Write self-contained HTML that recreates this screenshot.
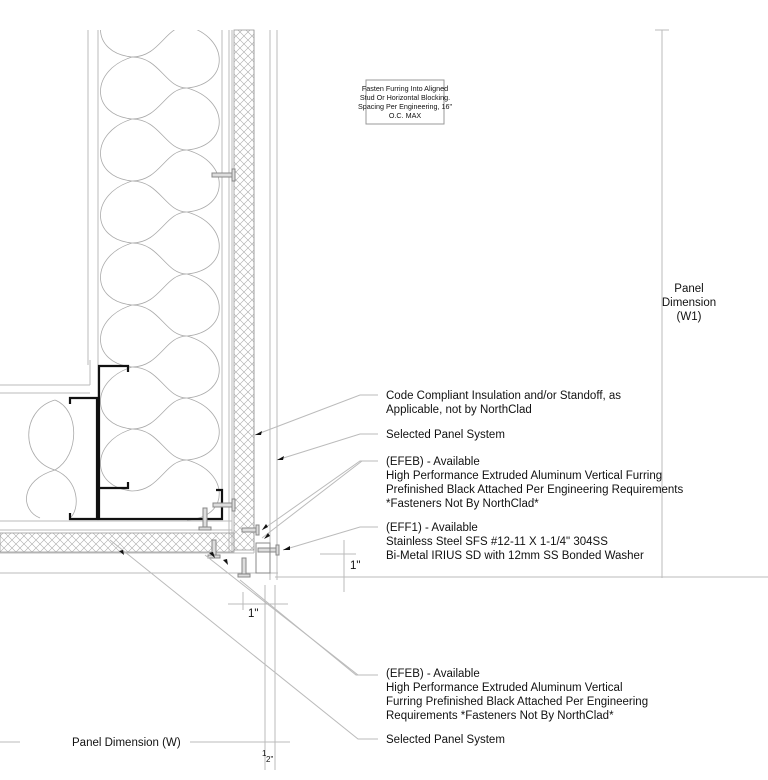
<!DOCTYPE html>
<html><head><meta charset="utf-8"><style>
html,body{margin:0;padding:0;background:#fff;}
svg{display:block;}
text{font-family:"Liberation Sans",sans-serif;fill:#111;}
</style></head><body>
<svg width="768" height="780" viewBox="0 0 768 780" xmlns="http://www.w3.org/2000/svg">
<defs>
<pattern id="h" width="8" height="8" patternUnits="userSpaceOnUse">
<path d="M0 0L8 8M8 0L0 8" stroke="#aaa" stroke-width="0.6"/>
</pattern>
<marker id="a" markerWidth="8" markerHeight="6" refX="7" refY="3" orient="auto"><path d="M0 0L8 3L0 6z" fill="#111"/></marker>
</defs>
<g fill="none" stroke="#bbb" stroke-width="1">
<!-- left wall lines -->
<line x1="88" y1="30" x2="88" y2="365"/>
<line x1="98" y1="30" x2="98" y2="520"/>
<line x1="222" y1="30" x2="222" y2="520"/>
<line x1="229" y1="30" x2="229" y2="553"/>
<line x1="232" y1="30" x2="232" y2="553"/>
<line x1="254" y1="30" x2="254" y2="553"/>
<line x1="270" y1="30" x2="270" y2="580"/>
<line x1="277" y1="30" x2="277" y2="580"/>
<!-- stud blocking left -->
<line x1="0" y1="385" x2="90" y2="385"/>
<line x1="0" y1="393" x2="90" y2="393"/>
<line x1="90" y1="360" x2="90" y2="385"/>
<!-- bottom horizontal -->
<line x1="0" y1="521" x2="232" y2="521"/>
<line x1="0" y1="530" x2="232" y2="530"/>
<line x1="0" y1="553" x2="254" y2="553"/>
<line x1="0" y1="573" x2="278" y2="573"/>
<line x1="275" y1="577" x2="768" y2="577"/>
</g>
<rect x="234" y="30" width="20" height="520" fill="url(#h)" stroke="#999" stroke-width="0.8"/>
<rect x="0" y="533" width="234" height="19" fill="url(#h)" stroke="#999" stroke-width="0.8"/>
<!-- insulation -->
<g fill="none" stroke="#aaa" stroke-width="0.8">
<path d="M132 -5 C90 8 90 53 132 57 M132 57 C90 70 90 115 132 119 M132 119 C90 132 90 177 132 181 M132 181 C90 194 90 239 132 243 M132 243 C90 256 90 301 132 305 M132 305 C90 318 90 363 132 367 M132 367 C90 380 90 425 132 429 M132 429 C90 442 90 487 132 491"/>
<path d="M187 26 C230 38 230 84 187 88 M187 88 C230 100 230 146 187 150 M187 150 C230 162 230 208 187 212 M187 212 C230 224 230 270 187 274 M187 274 C230 286 230 332 187 336 M187 336 C230 348 230 394 187 398 M187 398 C230 410 230 456 187 460 M187 460 C230 472 230 518 187 520"/>
<path d="M132 57 C160 57 165 88 187 88 C165 88 160 119 132 119 C160 119 165 150 187 150 C165 150 160 181 132 181 C160 181 165 212 187 212 C165 212 160 243 132 243 C160 243 165 274 187 274 C165 274 160 305 132 305 C160 305 165 336 187 336 C165 336 160 367 132 367 C160 367 165 398 187 398 C165 398 160 429 132 429 C160 429 165 460 187 460 C165 460 160 491 132 491"/>
<path d="M132 57 C160 57 165 26 187 26"/>
<path d="M55 400 C20 410 20 460 55 470 C20 480 20 510 40 518 M55 400 C80 410 80 455 55 470 C80 480 80 510 70 518"/>
</g>
<rect x="98" y="0" width="124" height="30" fill="#fff"/>
<!-- studs -->
<g fill="none" stroke="#111" stroke-width="2.2">
<path d="M128 372 L128 366 L99 366 L99 519 L222 519 L222 490 L216 490"/>
<path d="M70 404 L70 398 L97 398 L97 519 L70 519 L70 513"/>
<path d="M100 488 L128 488 L128 482"/>
</g>
<!-- screws -->
<g stroke="#888" stroke-width="1" fill="#ddd">
<rect x="212" y="173" width="20" height="4"/><rect x="232" y="169" width="3" height="12"/>
<rect x="213" y="503" width="20" height="4"/><rect x="232" y="499" width="3" height="12"/>
<rect x="203" y="508" width="4" height="20"/><rect x="199" y="527" width="12" height="3"/>
<rect x="212" y="540" width="4" height="16"/><rect x="208" y="555" width="12" height="3"/>
<rect x="242" y="528" width="14" height="4"/><rect x="256" y="525" width="3" height="10"/>
<rect x="242" y="558" width="4" height="16"/><rect x="238" y="574" width="12" height="3"/>
<rect x="258" y="548" width="18" height="4"/><rect x="276" y="545" width="3" height="10"/>
<rect x="256" y="543" width="14" height="30" fill="none"/>
</g>
<!-- right dimension -->
<g stroke="#bbb" stroke-width="1" fill="none">
<line x1="662" y1="30" x2="662" y2="578"/>
<line x1="655" y1="30" x2="669" y2="30"/>
<line x1="344" y1="540" x2="344" y2="592"/>
<line x1="320" y1="554" x2="356" y2="554"/>
<line x1="265" y1="585" x2="265" y2="770"/>
<line x1="275" y1="585" x2="275" y2="770"/>
<line x1="243" y1="592" x2="243" y2="610"/>
<line x1="228" y1="604" x2="288" y2="604"/>
<line x1="190" y1="742" x2="290" y2="742"/>
<line x1="0" y1="742" x2="20" y2="742"/>
<!-- leaders -->
<path d="M378 395 L360 395 L255 435"/>
<path d="M378 434 L360 434 L277 460"/>
<path d="M378 461 L360 461 L262 530"/>
<path d="M378 461 L362 461 L262 538"/>
<path d="M378 527 L360 527 L283 550"/>
<path d="M378 675 L358 675 L205 555"/>
<path d="M378 675 L356 675 L240 580"/>
<path d="M378 739 L358 739 L110 540"/>
</g>
<g fill="#111">
<path d="M255 435 l7 -4 l-1 4z"/><path d="M277 460 l7 -4 l-1 4z"/>
<path d="M262 530 l4 -6 l2 3z"/><path d="M264 539 l4 -6 l2 3z"/>
<path d="M283 550 l7 -4 l0 4z"/><path d="M215 558 l-6 -5 l4 -1z"/><path d="M228 565 l-5 -5 l4 -1z"/>
<path d="M124 555 l-5 -4 l4 -1z"/>
</g>
<!-- note box -->
<rect x="366" y="80" width="78" height="44" fill="#fff" stroke="#999" stroke-width="1"/>
<g font-size="7.2" text-anchor="middle">
<text x="405" y="91">Fasten Furring Into Aligned</text>
<text x="405" y="100">Stud Or Horizontal Blocking.</text>
<text x="405" y="109">Spacing Per Engineering, 16"</text>
<text x="405" y="118">O.C. MAX</text>
</g>
<g font-size="11.5" text-anchor="middle">
<text x="689" y="292">Panel</text>
<text x="689" y="306">Dimension</text>
<text x="689" y="320">(W1)</text>
</g>
<g font-size="11.5">
<text x="386" y="399">Code Compliant Insulation and/or Standoff, as</text>
<text x="386" y="413">Applicable, not by NorthClad</text>
<text x="386" y="438">Selected Panel System</text>
<text x="386" y="465">(EFEB) - Available</text>
<text x="386" y="479">High Performance Extruded Aluminum Vertical Furring</text>
<text x="386" y="493">Prefinished Black Attached Per Engineering Requirements</text>
<text x="386" y="507">*Fasteners Not By NorthClad*</text>
<text x="386" y="531">(EFF1) - Available</text>
<text x="386" y="545">Stainless Steel SFS #12-11 X 1-1/4" 304SS</text>
<text x="386" y="559">Bi-Metal IRIUS SD with 12mm SS Bonded Washer</text>
<text x="386" y="677">(EFEB) - Available</text>
<text x="386" y="691">High Performance Extruded Aluminum Vertical</text>
<text x="386" y="705">Furring Prefinished Black Attached Per Engineering</text>
<text x="386" y="719">Requirements *Fasteners Not By NorthClad*</text>
<text x="386" y="743">Selected Panel System</text>
<text x="72" y="746">Panel Dimension (W)</text>
<text x="350" y="569">1"</text>
<text x="248" y="617">1"</text>
</g>
<text x="262" y="756" font-size="8">1</text>
<text x="266" y="762" font-size="8">2"</text>
</svg>
</body></html>
